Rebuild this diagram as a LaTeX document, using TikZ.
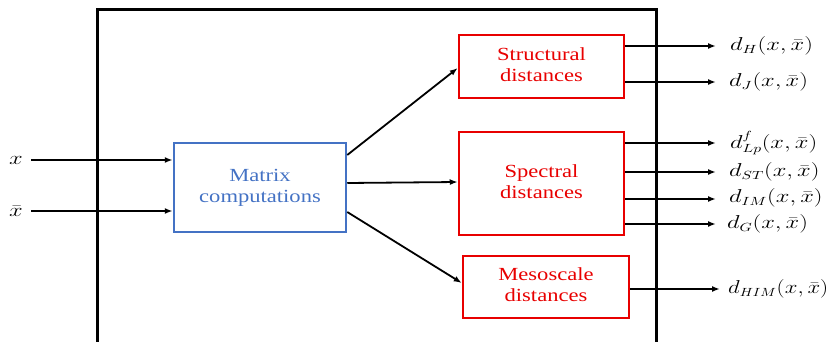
\documentclass[tikz,border=0pt]{standalone}
\usepackage{fontspec}
\setmainfont{Liberation Serif}
\usepackage{graphicx}
\usetikzlibrary{arrows.meta}
\definecolor{boxblue}{HTML}{4472C4}
\definecolor{boxred}{HTML}{E80000}
\newcommand{\wtext}[1]{\scalebox{1.22}[1]{\fontsize{18.5}{21}\selectfont\begin{tabular}{@{}c@{}}#1\end{tabular}}}
\newcommand{\wmath}[1]{\scalebox{1.42}[1.08]{\fontsize{16}{19}\selectfont$#1$}}
\newcommand{\wmathn}[1]{\scalebox{1.32}[1.08]{\fontsize{16}{19}\selectfont$#1$}}
\begin{document}
\begin{tikzpicture}[x=1pt,y=1pt,
  bluebox/.style={draw=boxblue,line width=2.5pt,minimum width=172pt,minimum height=89pt,inner sep=0pt,text=boxblue},
  redbox/.style={draw=boxred,line width=2.5pt,minimum width=165pt,inner sep=0pt,text=boxred},
  arr/.style={line width=1.8pt,-{Latex[length=8pt,width=6pt]}},
  outlab/.style={anchor=west,inner sep=0pt}]
\useasboundingbox (0,0) rectangle (833,341);
\draw[line width=3pt] (97,-2)--(97,331)--(656,331)--(656,-2);
\node[bluebox] (mat) at (260,153.5) {\wtext{Matrix\\computations}};
\node[redbox,minimum height=63pt] (struct) at (541.5,274.5) {\wtext{Structural\\distances}};
\node[redbox,minimum height=103pt] (spec) at (541.5,157.5) {\wtext{Spectral\\distances}};
\node[redbox,minimum width=166pt,minimum height=62pt] (meso) at (546,54) {\wtext{Mesoscale\\distances}};
% inputs
\node (inx) at (16,181) {\wmath{x}};
\node (inxb) at (16,130) {\wmath{\bar{x}}};
\coordinate (sx) at (31,181);
\coordinate (sxb) at (31,130);
\draw[arr] (sx) -- ([yshift=27.5pt]mat.west);
\draw[arr] (sxb) -- ([yshift=-23.5pt]mat.west);
% matrix to boxes
\draw[arr] ([yshift=32.5pt]mat.east) -- ([yshift=-1.5pt]struct.west);
\draw[arr] ([yshift=4.5pt]mat.east) -- ([yshift=1.5pt]spec.west);
\draw[arr] ([yshift=-24.5pt]mat.east) -- ([yshift=4pt]meso.west);
% outputs
\coordinate (e1) at (716,295);
\coordinate (e2) at (716,259);
\coordinate (e3) at (716,198);
\coordinate (e4) at (716,169);
\coordinate (e5) at (716,142);
\coordinate (e6) at (716,117);
\coordinate (e7) at (720,52);
\draw[arr] ([yshift=20.5pt]struct.east) -- (e1);
\draw[arr] ([yshift=-15.5pt]struct.east) -- (e2);
\draw[arr] ([yshift=40.5pt]spec.east) -- (e3);
\draw[arr] ([yshift=11.5pt]spec.east) -- (e4);
\draw[arr] ([yshift=-15.5pt]spec.east) -- (e5);
\draw[arr] ([yshift=-40.5pt]spec.east) -- (e6);
\draw[arr] ([yshift=-2pt]meso.east) -- (e7);
\node[outlab] (l1) at (730,295) {\wmath{d_{H}(x,\bar{x})}};
\node[outlab] (l2) at (729,259) {\wmath{d_{J}(x,\bar{x})}};
\node[outlab] (l3) at (730,198) {\wmath{d^{f}_{Lp}(x,\bar{x})}};
\node[outlab] (l4) at (729,169) {\wmath{d_{ST}(x,\bar{x})}};
\node[outlab] (l5) at (729,143) {\wmath{d_{IM}(x,\bar{x})}};
\node[outlab] (l6) at (727,117) {\wmath{d_{G}(x,\bar{x})}};
\node[outlab] (l7) at (728,52) {\wmathn{d_{HIM}(x,\bar{x})}};
\end{tikzpicture}
\end{document}
